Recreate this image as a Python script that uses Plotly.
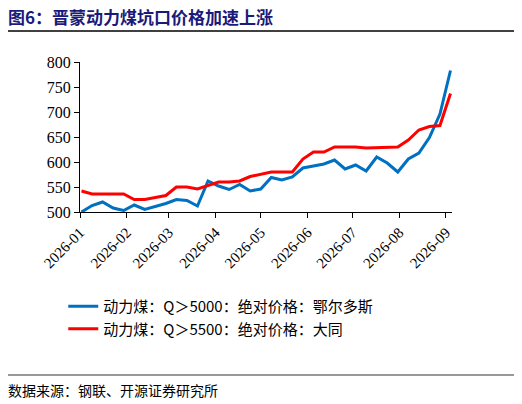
import plotly.graph_objects as go
import pandas as pd

dates = pd.date_range("2026-01-02", periods=36, freq="7D")
blue = [500,513,520,508,503,514,505,511,517,525,523,512,562,552,545,555,542,546,
        569,564,570,588,592,596,604,586,594,582,610,598,580,606,618,649,696,783]
red = [542,536,536,536,536,525,525,529,533,550,550,546,553,560,560,562,571,576,
       580,580,580,606,620,620,630,630,630,628,629,630,630,644,664,671,673,737]
ticks = ["2026-01","2026-02","2026-03","2026-04","2026-05","2026-06","2026-07","2026-08","2026-09"]
names = ["动力煤：Q＞5000：绝对价格：鄂尔多斯", "动力煤：Q＞5500：绝对价格：大同"]

cjk = "Noto Sans CJK SC"
fig = go.Figure()
fig.add_trace(go.Scatter(x=dates, y=blue, mode="lines", name=names[0],
                         line=dict(color="#0070c0", width=3)))
fig.add_trace(go.Scatter(x=dates, y=red, mode="lines", name=names[1],
                         line=dict(color="#ff0000", width=3)))
fig.update_layout(
    width=514, height=396, paper_bgcolor="white", plot_bgcolor="white",
    margin=dict(l=72, r=70, t=54, b=192),
    showlegend=True,
    legend=dict(x=-0.045, y=-0.52, xanchor="left", yanchor="top", bgcolor="rgba(0,0,0,0)",
                font=dict(family=cjk, size=15, color="black"), tracegroupgap=10),
    xaxis=dict(range=[pd.Timestamp("2026-01-01"), pd.Timestamp("2026-09-05")],
               tickvals=[pd.Timestamp(t + "-01") for t in ticks], ticktext=ticks,
               tickangle=-45, ticks="outside", ticklen=5, tickcolor="black",
               showline=True, linecolor="black", showgrid=False, zeroline=False,
               tickfont=dict(family="Liberation Serif", size=15, color="black")),
    yaxis=dict(range=[500, 800], dtick=50, ticks="outside", ticklen=5, tickcolor="black",
               showline=True, linecolor="black", showgrid=False, zeroline=False,
               tickfont=dict(family="Liberation Serif", size=16, color="black")),
)
fig.add_shape(type="line", xref="paper", yref="paper", x0=-72/372, x1=(514-72)/372,
              y0=(212-31)/150, y1=(212-31)/150, line=dict(color="black", width=1.5))
fig.add_shape(type="line", xref="paper", yref="paper", x0=-72/372, x1=(514-72)/372,
              y0=(212-375)/150, y1=(212-375)/150, line=dict(color="#333", width=1))
fig.add_annotation(text="<b>图6：晋蒙动力煤坑口价格加速上涨</b>", xref="paper", yref="paper",
                   x=-74/372, y=(212-2)/150, xanchor="left", yanchor="top", showarrow=False,
                   font=dict(family=cjk, size=17, color="#1a1a7a"))
fig.add_annotation(text="数据来源：钢联、开源证券研究所", xref="paper", yref="paper",
                   x=-74/372, y=(212-378)/150, xanchor="left", yanchor="top", showarrow=False,
                   font=dict(family=cjk, size=14, color="black"))
fig.write_html("out.html")
